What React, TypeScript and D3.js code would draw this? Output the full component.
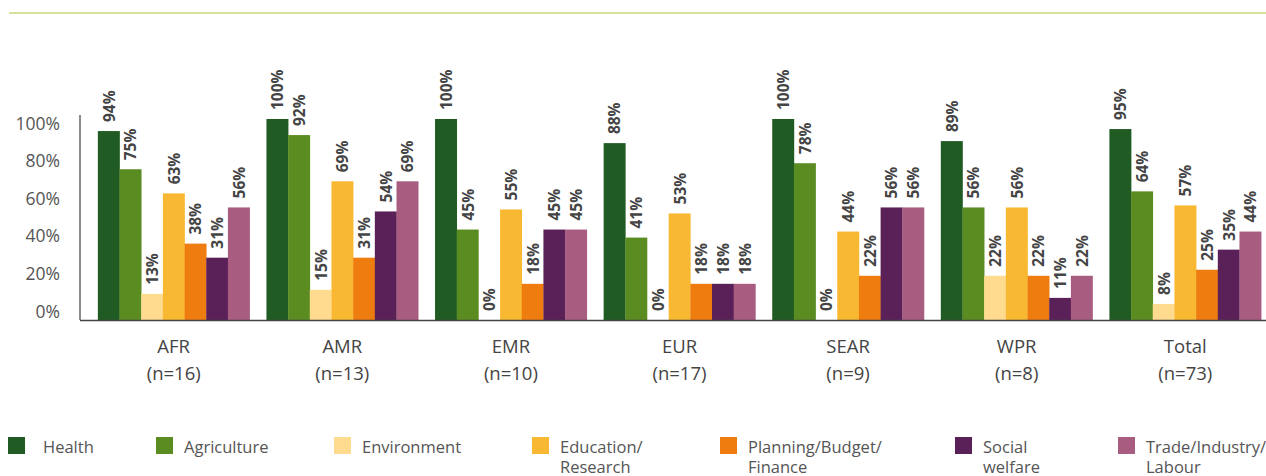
import React from "react";
import * as d3 from "d3";

const categories = ["AFR", "AMR", "EMR", "EUR", "SEAR", "WPR", "Total"];
const sampleSizes = ["(n=16)", "(n=13)", "(n=10)", "(n=17)", "(n=9)", "(n=8)", "(n=73)"];
const seriesNames = ["Health", "Agriculture", "Environment", "Education/Research", "Planning/Budget/Finance", "Social welfare", "Trade/Industry/Labour"];
const legendLines = [["Health"], ["Agriculture"], ["Environment"], ["Education/", "Research"], ["Planning/Budget/", "Finance"], ["Social", "welfare"], ["Trade/Industry/", "Labour"]];
const colors = ["#1f5b22", "#5b8c22", "#fedb8e", "#f9b832", "#ee7c0f", "#5a2159", "#a85c80"];

const health = [94, 100, 100, 88, 100, 89, 95];
const agriculture = [75, 92, 45, 41, 78, 56, 64];
const environment = [13, 15, 0, 0, 0, 22, 8];
const education = [63, 69, 55, 53, 44, 56, 57];
const planning = [38, 31, 18, 18, 22, 22, 25];
const social = [31, 54, 45, 18, 56, 11, 35];
const trade = [56, 69, 45, 18, 56, 22, 44];
const series = [health, agriculture, environment, education, planning, social, trade];

const yTicks = [0, 20, 40, 60, 80, 100];

// layout
const W = 1266, H = 476;
const axisX = 80;
const baseY = 320;
const legendX = [8, 156, 334, 532, 720, 955, 1118];
const FONT = "'Open Sans', Lato, sans-serif";

export default function App() {
  const x = d3.scaleBand<string>().domain(categories).range([81, 1278]).paddingInner(0.1).paddingOuter(0.1);
  const xi = d3.scaleBand<string>().domain(seriesNames).range([0, x.bandwidth()]).padding(0);
  const y = d3.scaleLinear().domain([0, 100]).range([baseY, 119]);
  const yLabel = d3.scaleLinear().domain([0, 100]).range([313, 125]);

  return (
    <svg width={W} height={H} style={{ position: "absolute", left: 0, top: 0, background: "#fff" }}>
      <line x1={9} x2={W} y1={13} y2={13} stroke="#d4e19a" strokeWidth={2} />
      {/* y axis */}
      <line x1={axisX} x2={axisX} y1={115} y2={baseY} stroke="#666" strokeWidth={1.5} />
      {yTicks.map((t) => (
        <text key={t} x={60} y={yLabel(t)} textAnchor="end" dominantBaseline="middle"
          fontFamily={FONT} fontSize={17.5} fill="#555">{t}%</text>
      ))}
      {/* bars */}
      {categories.map((c, ci) => (
        <g key={c} transform={`translate(${x(c)},0)`}>
          {series.map((s, si) => {
            const v = s[ci];
            const bx = xi(seriesNames[si])!;
            const top = y(v);
            return (
              <g key={si}>
                <rect x={bx} y={top} width={xi.bandwidth() + 0.3} height={baseY - top} fill={colors[si]} />
                <text transform={`translate(${bx + xi.bandwidth() / 2},${top - 9}) rotate(-90)`}
                  dominantBaseline="central" fontFamily={FONT} fontWeight={700}
                  fontSize={15.5} fill="#444">{v}%</text>
              </g>
            );
          })}
          <text x={x.bandwidth() / 2} y={348} textAnchor="middle" dominantBaseline="middle"
            fontFamily={FONT} fontSize={18.5} fill="#444">{c}</text>
          <text x={x.bandwidth() / 2} y={375} textAnchor="middle" dominantBaseline="middle"
            fontFamily={FONT} fontSize={18.5} fill="#444">{sampleSizes[ci]}</text>
        </g>
      ))}
      {/* baseline */}
      <line x1={axisX} x2={W} y1={baseY + 0.5} y2={baseY + 0.5} stroke="#444" strokeWidth={1.5} />
      {/* legend */}
      {seriesNames.map((n, i) => (
        <g key={n} transform={`translate(${legendX[i]},0)`}>
          <rect x={0} y={437} width={17} height={17} fill={colors[i]} />
          {legendLines[i].map((ln, li) => (
            <text key={li} x={i === 0 ? 35 : 28} y={453 + li * 20} fontFamily={FONT}
              fontSize={16.5} fill="#555">{ln}</text>
          ))}
        </g>
      ))}
    </svg>
  );
}
